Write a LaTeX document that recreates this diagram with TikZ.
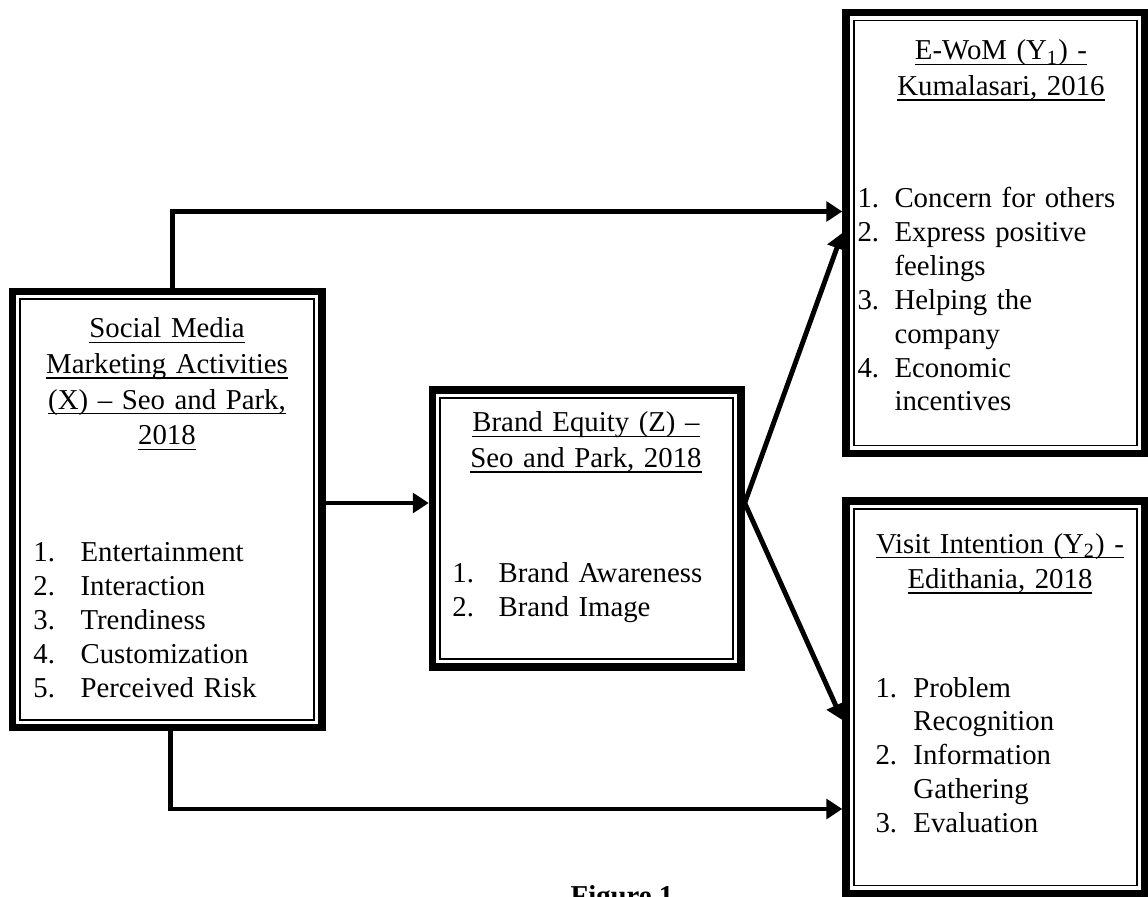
\documentclass[tikz,border=0pt]{standalone}
\usepackage{fontspec}
\setmainfont{Liberation Serif}
\usetikzlibrary{arrows.meta,positioning,calc}

\newcommand{\numitem}[2]{\makebox[#1][l]{#2}}
\newcommand{\undl}[1]{\leavevmode{\setbox0\hbox{#1}\rlap{\rule[-2.2pt]{\wd0}{0.6pt}}\box0}}

\begin{document}
\begin{tikzpicture}[x=0.408pt, y=-0.408pt,
    boxframe/.style={draw, rectangle, line width=3pt, line join=miter, inner sep=0pt},
    ttl/.style={text width=150pt, align=center, inner sep=0pt, anchor=base, font=\fontsize{11.75}{14.5}\selectfont},
    items/.style={text width=150pt, align=left, inner sep=0pt, anchor=base west, font=\fontsize{11.75}{13.8}\selectfont},
    conn/.style={line width=2pt, line join=miter, -{Triangle[length=6.5pt,width=8pt]}}]
    \useasboundingbox (0,0) rectangle (1148,897);
    \clip (0,0) rectangle (1148,897);

    % Boxes
    \node[boxframe, minimum width=126.3pt, minimum height=177.9pt] (smma) at (167.25,509.5) {};
    \node[boxframe, minimum width=125.9pt, minimum height=113pt] (beq) at (586.75,528.5) {};
    \node[boxframe, minimum width=121.8pt, minimum height=179.9pt] (ewom) at (995.25,233) {};
    \node[boxframe, minimum width=121.8pt, minimum height=160.1pt] (vint) at (995.25,697.25) {};
    \foreach \b in {smma,beq,ewom,vint}
        \draw[line width=0.7pt] ([shift={(4.7pt,-4.7pt)}]\b.north west) rectangle ([shift={(-4.7pt,4.7pt)}]\b.south east);

    % Social media marketing activities
    \node[ttl] (smmat) at (167,338) {\undl{Social Media}\\\undl{Marketing Activities}\\\undl{(X) -- Seo and Park,}\\\undl{2018}};
    \node[items] (smmal) at (33,562) {\numitem{19.2pt}{1.}Entertainment\\
        \numitem{19.2pt}{2.}Interaction\\
        \numitem{19.2pt}{3.}Trendiness\\
        \numitem{19.2pt}{4.}Customization\\
        \numitem{19.2pt}{5.}Perceived Risk};

    % Brand equity
    \node[ttl] (beqt) at (586,432) {\undl{Brand Equity (Z) --}\\\undl{Seo and Park, 2018}};
    \node[items] (beql) at (452,583) {\numitem{18.8pt}{1.}Brand Awareness\\
        \numitem{18.8pt}{2.}Brand Image};

    % E-WoM
    \node[ttl] (ewomt) at (1001,60) {\undl{E-WoM (Y\textsubscript{1}) -}\\\undl{Kumalasari, 2016}};
    \node[items] (ewoml) at (857,208) {\numitem{15.1pt}{1.}Concern for others\\
        \numitem{15.1pt}{2.}Express positive\\
        \hspace*{15.1pt}feelings\\
        \numitem{15.1pt}{3.}Helping the\\
        \hspace*{15.1pt}company\\
        \numitem{15.1pt}{4.}Economic\\
        \hspace*{15.1pt}incentives};

    % Visit intention
    \node[ttl] (vintt) at (1000,553) {\undl{Visit Intention (Y\textsubscript{2}) -}\\\undl{Edithania, 2018}};
    \node[items] (vintl) at (875,697) {\numitem{15.5pt}{1.}Problem\\
        \hspace*{15.5pt}Recognition\\
        \numitem{15.5pt}{2.}Information\\
        \hspace*{15.5pt}Gathering\\
        \numitem{15.5pt}{3.}Evaluation};

    % Caption
    \node[anchor=base, inner sep=0pt, font=\bfseries\fontsize{11.75}{14}\selectfont] (fig) at (622,905) {Figure 1};

    % Connectors
    \coordinate (topbend) at (172.5,211.5);
    \coordinate (botbend) at (170.5,809);
    \coordinate (midlvl) at (380,503);
    \coordinate (ewomin) at (846,233);
    \coordinate (vintin) at (846,720);
    \draw[conn] (smma.north -| topbend) -- (topbend) -- (ewom.west |- topbend);
    \draw[conn] (smma.east |- midlvl) -- (beq.west |- midlvl);
    \draw[conn] (beq.east |- midlvl) -- (ewom.west |- ewomin);
    \draw[conn] (beq.east |- midlvl) -- (vint.west |- vintin);
    \draw[conn] (smma.south -| botbend) -- (botbend) -- (vint.west |- botbend);
\end{tikzpicture}
\end{document}
